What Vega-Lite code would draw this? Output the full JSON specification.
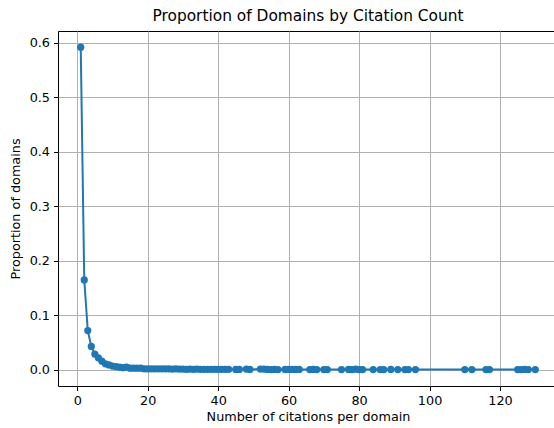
{
  "$schema": "https://vega.github.io/schema/vega-lite/v6.json",
  "autosize": {"type": "none"},
  "padding": {"left": 58, "top": 31, "right": 0, "bottom": 42},
  "width": 500,
  "height": 355,
  "background": "white",
  "title": {"text": "Proportion of Domains by Citation Count", "fontSize": 15.4, "font": "DejaVu Sans", "fontWeight": "normal", "color": "black", "offset": 7},
  "data": {"values": [
    {"x": 1, "y": 0.592}, {"x": 2, "y": 0.165}, {"x": 3, "y": 0.072}, {"x": 4, "y": 0.043}, {"x": 5, "y": 0.029},
    {"x": 6, "y": 0.022}, {"x": 7, "y": 0.016}, {"x": 8, "y": 0.011}, {"x": 9, "y": 0.009}, {"x": 10, "y": 0.007},
    {"x": 11, "y": 0.006}, {"x": 12, "y": 0.005}, {"x": 13, "y": 0.004}, {"x": 14, "y": 0.005}, {"x": 15, "y": 0.003},
    {"x": 16, "y": 0.003}, {"x": 17, "y": 0.003}, {"x": 18, "y": 0.003}, {"x": 19, "y": 0.002}, {"x": 20, "y": 0.002},
    {"x": 21, "y": 0.002}, {"x": 22, "y": 0.002}, {"x": 23, "y": 0.002}, {"x": 24, "y": 0.002}, {"x": 25, "y": 0.002},
    {"x": 26, "y": 0.002}, {"x": 27, "y": 0.0015}, {"x": 28, "y": 0.002}, {"x": 29, "y": 0.0015}, {"x": 30, "y": 0.0015},
    {"x": 31, "y": 0.001}, {"x": 32, "y": 0.0015}, {"x": 33, "y": 0.001}, {"x": 34, "y": 0.0015}, {"x": 35, "y": 0.001},
    {"x": 36, "y": 0.001}, {"x": 37, "y": 0.001}, {"x": 38, "y": 0.001}, {"x": 39, "y": 0.001}, {"x": 40, "y": 0.001},
    {"x": 41, "y": 0.001}, {"x": 42, "y": 0.001}, {"x": 43, "y": 0.001}, {"x": 45, "y": 0.0008}, {"x": 46, "y": 0.0008},
    {"x": 48, "y": 0.0015}, {"x": 49, "y": 0.0008}, {"x": 52, "y": 0.0015}, {"x": 53, "y": 0.0015}, {"x": 54, "y": 0.0008},
    {"x": 55, "y": 0.0005}, {"x": 56, "y": 0.0008}, {"x": 57, "y": 0.0005}, {"x": 59, "y": 0.0008}, {"x": 60, "y": 0.0008},
    {"x": 61, "y": 0.0008}, {"x": 62, "y": 0.0008}, {"x": 63, "y": 0.0008}, {"x": 66, "y": 0.0005}, {"x": 67, "y": 0.0008},
    {"x": 68, "y": 0.0005}, {"x": 70, "y": 0.0005}, {"x": 71, "y": 0.0005}, {"x": 75, "y": 0.0005}, {"x": 77, "y": 0.0008},
    {"x": 78, "y": 0.0005}, {"x": 79, "y": 0.0012}, {"x": 80, "y": 0.0005}, {"x": 81, "y": 0.0005}, {"x": 84, "y": 0.0005},
    {"x": 86, "y": 0.0005}, {"x": 87, "y": 0.0005}, {"x": 89, "y": 0.0008}, {"x": 91, "y": 0.0005}, {"x": 93, "y": 0.0005},
    {"x": 94, "y": 0.0005}, {"x": 96, "y": 0.0005}, {"x": 110, "y": 0.0005}, {"x": 112, "y": 0.0005}, {"x": 116, "y": 0.0005},
    {"x": 117, "y": 0.0005}, {"x": 125, "y": 0.0005}, {"x": 126, "y": 0.0005}, {"x": 127, "y": 0.0008}, {"x": 128, "y": 0.0005},
    {"x": 130, "y": 0.0005}
  ]},
  "encoding": {
    "x": {"field": "x", "type": "quantitative",
      "scale": {"domain": [-5.45, 136.45], "nice": false, "zero": false},
      "axis": {"title": "Number of citations per domain", "values": [0, 20, 40, 60, 80, 100, 120]}},
    "y": {"field": "y", "type": "quantitative",
      "scale": {"domain": [-0.0296, 0.6216], "nice": false, "zero": false},
      "axis": {"title": "Proportion of domains", "values": [0, 0.1, 0.2, 0.3, 0.4, 0.5, 0.6], "format": ".1f"}}
  },
  "layer": [
    {"mark": {"type": "line", "color": "#1f77b4", "strokeWidth": 2}},
    {"mark": {"type": "point", "filled": true, "color": "#1f77b4", "size": 52, "opacity": 1}}
  ],
  "config": {
    "font": "DejaVu Sans",
    "view": {"stroke": "black", "strokeWidth": 1},
    "axis": {
      "grid": true, "gridColor": "#b0b0b0", "gridWidth": 1, "gridOpacity": 1,
      "domain": false, "ticks": true, "tickColor": "black", "tickSize": 4.5, "tickWidth": 1,
      "labelFont": "DejaVu Sans", "labelFontSize": 12.8, "labelColor": "black", "labelPadding": 4,
      "titleFont": "DejaVu Sans", "titleFontSize": 12.8, "titleFontWeight": "normal", "titleColor": "black"
    },
    "axisX": {"titlePadding": 3, "labelFlush": false},
    "axisY": {"titlePadding": 7, "labelFlush": false}
  }
}
